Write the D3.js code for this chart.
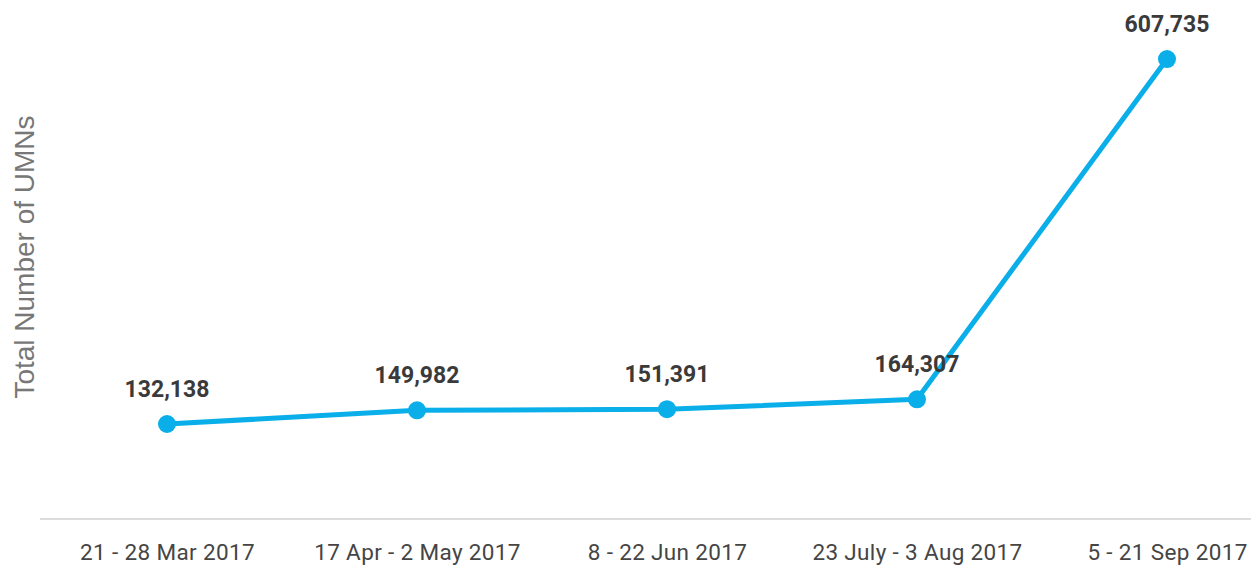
<!DOCTYPE html>
<html>
<head>
<meta charset="utf-8">
<script src="https://cdn.jsdelivr.net/npm/d3@7/dist/d3.min.js"></script>
<style>
  html, body { margin: 0; padding: 0; background: #fff; }
  svg { display: block; }
</style>
</head>
<body>
<svg id="chart" width="1251" height="566"></svg>
<script>
// Survey periods and UMN totals
const periods = ["21 - 28 Mar 2017", "17 Apr - 2 May 2017", "8 - 22 Jun 2017", "23 July - 3 Aug 2017", "5 - 21 Sep 2017"];
const totals = [132138, 149982, 151391, 164307, 607735];
const yTitle = "Total Number of UMNs";

const W = 1251, H = 566;
const svg = d3.select("#chart");
const lineColor = "#0aaee9";

const x = d3.scalePoint()
  .domain(periods)
  .range([167, 1167]);

const y = d3.scaleLinear()
  .domain([0, 650000])
  .range([525.4, 26.6]);

// Baseline
svg.append("line")
  .attr("x1", 40).attr("x2", W)
  .attr("y1", 519).attr("y2", 519)
  .attr("stroke", "#dcdcdc")
  .attr("stroke-width", 2);

// Category labels
const xAxis = d3.axisBottom(x).tickSize(0).tickPadding(0);
const gx = svg.append("g").attr("transform", "translate(0,560)").call(xAxis);
gx.select(".domain").remove();
gx.selectAll("text")
  .attr("y", 0)
  .attr("dy", 0)
  .style("font-family", "Roboto, sans-serif")
  .style("font-size", "22.5px")
  .style("letter-spacing", "0.35px")
  .style("fill", "#454545");

// Y title
svg.append("text")
  .attr("transform", "translate(34,257) rotate(-90)")
  .attr("text-anchor", "middle")
  .style("font-family", "'Liberation Sans', Arial, sans-serif")
  .style("font-size", "28px")
  .style("fill", "#777")
  .text(yTitle);

const data = periods.map((p, i) => ({ p, v: totals[i] }));

const line = d3.line()
  .x(d => x(d.p))
  .y(d => y(d.v));

svg.append("path")
  .datum(data)
  .attr("d", line)
  .attr("fill", "none")
  .attr("stroke", lineColor)
  .attr("stroke-width", 5)
  .attr("stroke-linejoin", "round");

svg.selectAll("circle.pt")
  .data(data)
  .join("circle")
  .attr("class", "pt")
  .attr("cx", d => x(d.p))
  .attr("cy", d => y(d.v))
  .attr("r", 9)
  .attr("fill", lineColor);

const fmt = d3.format(",");
svg.selectAll("text.val")
  .data(data)
  .join("text")
  .attr("class", "val")
  .attr("x", d => x(d.p))
  .attr("y", d => y(d.v) - 27)
  .attr("text-anchor", "middle")
  .style("font-family", "Roboto, sans-serif")
  .style("font-weight", "bold")
  .style("font-size", "23px")
  .style("fill", "#3a3a3a")
  .text(d => fmt(d.v));
</script>
</body>
</html>
